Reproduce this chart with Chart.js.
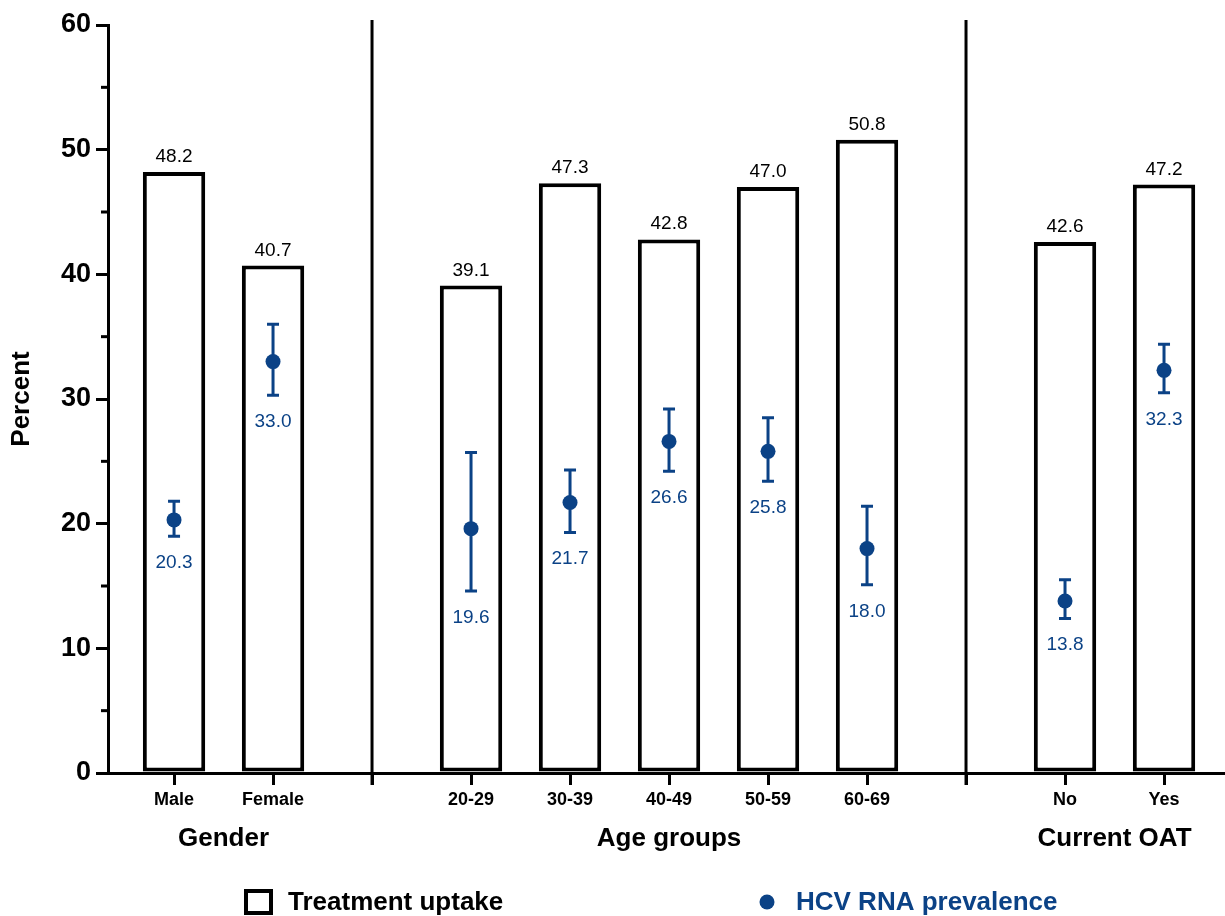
<!DOCTYPE html>
<html>
<head>
<meta charset="utf-8">
<script src="https://cdn.jsdelivr.net/npm/chart.js@4.4.1/dist/chart.umd.min.js"></script>
<style>
  html, body { margin: 0; padding: 0; background: #fff; }
  #wrap { width: 1225px; height: 916px; }
</style>
</head>
<body>
<div id="wrap"><canvas id="chart" width="1225" height="916"></canvas></div>
<script>
// categories ('' marks the gap between groups)
const categories = ['Male', 'Female', '', '20-29', '30-39', '40-49', '50-59', '60-69', '', 'No', 'Yes'];
const groupNames = ['Gender', 'Age groups', 'Current OAT'];

// treatment uptake (%)
const uptake = [48.2, 40.7, null, 39.1, 47.3, 42.8, 47.0, 50.8, null, 42.6, 47.2];
// HCV RNA prevalence (%) with 95% CI
const prevalence = [20.3, 33.0, null, 19.6, 21.7, 26.6, 25.8, 18.0, null, 13.8, 32.3];
const prevLow = [19.0, 30.3, null, 14.6, 19.3, 24.2, 23.4, 15.1, null, 12.4, 30.5];
const prevHigh = [21.8, 36.0, null, 25.7, 24.3, 29.2, 28.5, 21.4, null, 15.5, 34.4];

const yTicks = [0, 10, 20, 30, 40, 50, 60];

const BLUE = '#0b4286';
Chart.defaults.font.family = '"Liberation Sans", Arial, sans-serif';
Chart.defaults.color = '#000';

const barData = [];
const pointData = [];
categories.forEach((c, i) => {
  if (uptake[i] != null) barData.push({ x: i, y: uptake[i] });
  if (prevalence[i] != null) pointData.push({ x: i, y: prevalence[i], lo: prevLow[i], hi: prevHigh[i] });
});

// group runs of non-empty categories
const groupRuns = [];
let run = [];
categories.forEach((c, i) => {
  if (c === '') { if (run.length) groupRuns.push(run); run = []; }
  else run.push(i);
});
if (run.length) groupRuns.push(run);

const decorPlugin = {
  id: 'decor',
  beforeDatasetDraw(chart, args) {
    if (args.index !== 1) return;
    const ctx = chart.ctx;
    const y = chart.scales.y;
    ctx.save();
    ctx.strokeStyle = BLUE;
    ctx.lineWidth = 3;
    args.meta.data.forEach((el, k) => {
      const d = pointData[k];
      const yh = y.getPixelForValue(d.hi);
      const yl = y.getPixelForValue(d.lo);
      ctx.beginPath();
      ctx.moveTo(el.x, yh); ctx.lineTo(el.x, yl);
      ctx.moveTo(el.x - 6, yh); ctx.lineTo(el.x + 6, yh);
      ctx.moveTo(el.x - 6, yl); ctx.lineTo(el.x + 6, yl);
      ctx.stroke();
    });
    ctx.restore();
  },
  afterDatasetsDraw(chart) {
    const ctx = chart.ctx;
    const x = chart.scales.x;
    const y = chart.scales.y;
    const area = chart.chartArea;
    ctx.save();

    // minor ticks on y
    ctx.strokeStyle = '#000';
    ctx.lineWidth = 3;
    for (let v = 5; v < 60; v += 10) {
      const py = y.getPixelForValue(v);
      ctx.beginPath();
      ctx.moveTo(area.left - 7, py); ctx.lineTo(area.left, py);
      ctx.stroke();
    }

    // separators between groups
    categories.forEach((c, i) => {
      if (c !== '') return;
      const px = x.getPixelForValue(i);
      ctx.beginPath();
      ctx.moveTo(px, area.top - 5); ctx.lineTo(px, area.bottom + 12);
      ctx.stroke();
    });

    // bar value labels
    ctx.fillStyle = '#000';
    ctx.font = '19px "Liberation Sans", Arial, sans-serif';
    ctx.textAlign = 'center';
    ctx.textBaseline = 'alphabetic';
    chart.getDatasetMeta(0).data.forEach((el, k) => {
      ctx.fillText(barData[k].y.toFixed(1), el.x, el.y - 10);
    });

    // point value labels
    ctx.fillStyle = BLUE;
    chart.getDatasetMeta(1).data.forEach((el, k) => {
      const d = pointData[k];
      ctx.fillText(d.y.toFixed(1), el.x, y.getPixelForValue(d.lo) + 32);
    });

    // group labels
    ctx.fillStyle = '#000';
    ctx.font = 'bold 26px "Liberation Sans", Arial, sans-serif';
    ctx.textBaseline = 'middle';
    groupRuns.forEach((r, g) => {
      const cx = (x.getPixelForValue(r[0]) + x.getPixelForValue(r[r.length - 1])) / 2;
      ctx.fillText(groupNames[g], cx, 839);
    });

    // legend
    ctx.textAlign = 'left';
    ctx.lineWidth = 4;
    ctx.strokeStyle = '#000';
    ctx.strokeRect(246, 891, 25, 22);
    ctx.fillText('Treatment uptake', 288, 903);
    ctx.fillStyle = BLUE;
    ctx.beginPath();
    ctx.arc(767, 902, 7.5, 0, Math.PI * 2);
    ctx.fill();
    ctx.fillText('HCV RNA prevalence', 796, 903);

    ctx.restore();
  }
};

new Chart(document.getElementById('chart'), {
  type: 'bar',
  data: {
    datasets: [
      {
        type: 'bar',
        label: 'Treatment uptake',
        data: barData,
        backgroundColor: '#fff',
        borderColor: '#000',
        borderWidth: 4,
        borderSkipped: false,
        categoryPercentage: 1,
        barPercentage: 0.63,
        order: 2
      },
      {
        type: 'scatter',
        label: 'HCV RNA prevalence',
        data: pointData,
        backgroundColor: BLUE,
        borderWidth: 0,
        pointRadius: 7.5,
        pointHoverRadius: 7.5,
        order: 1
      }
    ]
  },
  options: {
    responsive: false,
    animation: false,
    events: [],
    layout: { autoPadding: false, padding: { top: 25, right: 0, left: 0, bottom: 0 } },
    plugins: {
      legend: { display: false },
      tooltip: { enabled: false }
    },
    scales: {
      x: {
        type: 'linear',
        min: -0.667,
        max: 10.616,
        offset: false,
        afterBuildTicks(scale) {
          scale.ticks = categories.map((c, i) => ({ value: i }));
        },
        afterFit(scale) {
          scale.height = 143;
          scale.paddingLeft = 0;
          scale.paddingRight = 0;
        },
        ticks: {
          autoSkip: false,
          maxRotation: 0,
          padding: 4,
          font: { size: 18, weight: 'bold' },
          color: '#000',
          callback: (v, i) => categories[i]
        },
        grid: {
          offset: false,
          drawOnChartArea: false,
          drawTicks: true,
          tickLength: 12,
          color: '#000',
          tickColor: '#000',
          lineWidth: 3,
          tickWidth: 3
        },
        border: { display: true, color: '#000', width: 3 }
      },
      y: {
        min: 0,
        max: 60,
        afterBuildTicks(scale) {
          scale.ticks = yTicks.map(v => ({ value: v }));
        },
        afterFit(scale) {
          scale.width = 108;
          scale.paddingTop = 0;
          scale.paddingBottom = 0;
        },
        ticks: {
          padding: 5,
          font: { size: 27, weight: 'bold' },
          color: '#000'
        },
        grid: {
          drawOnChartArea: false,
          drawTicks: true,
          tickLength: 12,
          color: '#000',
          tickColor: '#000',
          lineWidth: 3,
          tickWidth: 3
        },
        border: { display: true, color: '#000', width: 3 },
        title: {
          display: true,
          text: 'Percent',
          font: { size: 26, weight: 'bold' },
          color: '#000',
          padding: { top: 6, bottom: 0 }
        }
      }
    }
  },
  plugins: [decorPlugin]
});
</script>
</body>
</html>
